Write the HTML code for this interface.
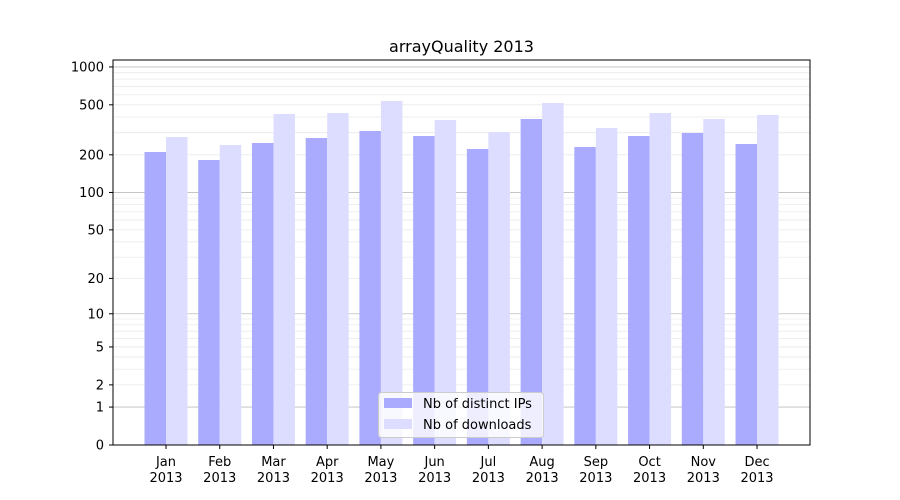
<!DOCTYPE html>
<html><head><meta charset="utf-8"><style>
html,body{margin:0;padding:0;background:#fff;}
svg{display:block;font-family:"DejaVu Sans","Liberation Sans",sans-serif;}
</style></head><body>
<svg id="s" width="900" height="500" xmlns="http://www.w3.org/2000/svg">
<rect width="900" height="500" fill="#fff"/>
<g id="grid"></g>
<g id="bars"></g>
<rect x="113" y="60" width="697" height="385" fill="none" stroke="#000" stroke-width="1"/>
<g id="ticks" font-size="13" fill="#000"></g>
<text x="461.5" y="52" font-size="16" text-anchor="middle">arrayQuality 2013</text>
<g>
<rect x="378.5" y="392.5" width="165" height="45" rx="3" fill="#fff" fill-opacity="0.8" stroke="#ccc"/>
<rect x="384" y="398" width="28" height="10" fill="#aaaaff"/>
<text x="423" y="408" font-size="13">Nb of distinct IPs</text>
<rect x="384" y="419" width="28" height="10" fill="#ddddff"/>
<text x="423" y="429" font-size="13">Nb of downloads</text>
</g>
</svg>
<script>
var NS="http://www.w3.org/2000/svg";
function el(p,t,a,txt){var e=document.createElementNS(NS,t);for(var k in a)e.setAttribute(k,a[k]);if(txt)e.textContent=txt;p.appendChild(e);return e;}
function Y(v){return 445-126*Math.log10(1+v);}
var g=document.getElementById('grid');
[1,10,100,1000].forEach(function(d){
  for(var m=2;m<=9;m++){var v=d*m;if(v>1100)break;var y=Y(v);el(g,'line',{x1:113,x2:810,y1:y,y2:y,stroke:'#eaeaea','stroke-width':0.8});}
});
[1,10,100,1000].forEach(function(v){var y=Y(v);el(g,'line',{x1:113,x2:810,y1:y,y2:y,stroke:'#bdbdbd','stroke-width':0.8});});
var b=document.getElementById('bars');
var blue=[152,160,143,138,131,136,149,119,147,136,133,144];
var light=[137,145,114,113,101,120,132,103,128,113,119,115];
var mon=['Jan','Feb','Mar','Apr','May','Jun','Jul','Aug','Sep','Oct','Nov','Dec'];
var t=document.getElementById('ticks');
for(var i=0;i<12;i++){
  var c=166+i*53.73;
  el(b,'rect',{x:c-21.5,y:blue[i],width:21.5,height:445-blue[i],fill:'#aaaaff'});
  el(b,'rect',{x:c,y:light[i],width:21.5,height:445-light[i],fill:'#ddddff'});
  el(t,'line',{x1:c,x2:c,y1:445,y2:449,stroke:'#000'});
  el(t,'text',{x:c,y:466,'text-anchor':'middle'},mon[i]);
  el(t,'text',{x:c,y:482,'text-anchor':'middle'},'2013');
}
[0,1,2,5,10,20,50,100,200,500,1000].forEach(function(v){
  var y=Y(v);
  el(t,'line',{x1:109,x2:113,y1:y,y2:y,stroke:'#000'});
  el(t,'text',{x:104,y:y+4.5,'text-anchor':'end'},String(v));
});
</script>
</body></html>
